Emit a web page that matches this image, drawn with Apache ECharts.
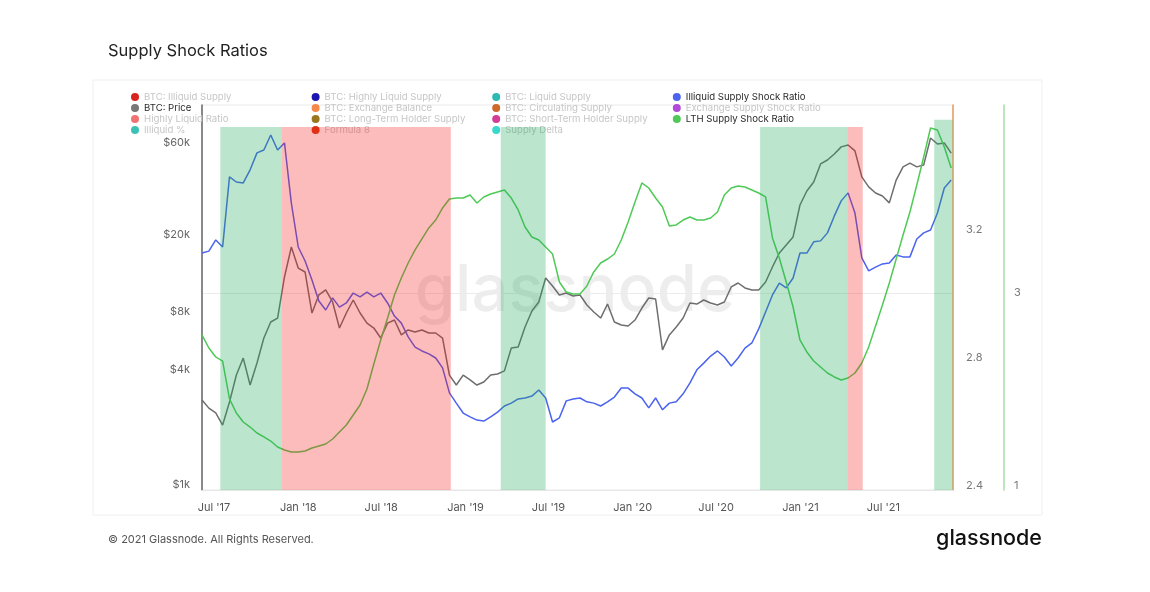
<!DOCTYPE html>
<html><head><meta charset="utf-8">
<script src="https://cdn.jsdelivr.net/npm/echarts@6/dist/echarts.min.js"></script>
<style>html,body{margin:0;padding:0;background:#fff}#c{width:1150px;height:592px}</style>
</head><body><div id="c"></div>
<script>
// ---- data (one point every 15 days from startDate) ----
const startDate = '2017-06-05';
const stepDays = 15;

const btcPrice = [
  2770, 2510, 2370, 2050, 2700, 3730, 4570, 3310, 4310, 5810,
  7040, 7380, 12070, 17280, 13430, 12810, 7840, 9730, 10330, 8950,
  6550, 7840, 9160, 7840, 6950, 6550, 5810, 6950, 7210, 6030,
  6400, 6250, 6400, 6170, 6170, 5810, 3730, 3310, 3730, 3520,
  3310, 3430, 3730, 3780, 3920, 5160, 5220, 6630, 8030, 8950,
  11920, 10830, 9730, 9960, 9610, 9730, 8630, 7940, 7380, 8730,
  7040, 6790, 6710, 7210, 8320, 9380, 9270, 5040, 6030, 6630,
  7380, 8840, 8730, 9160, 8840, 8630, 8950, 10710, 11230, 10580,
  10330, 10330, 11370, 13610, 16080, 17700, 19490, 28580, 33800, 37640,
  46700, 48980, 52600, 57300, 58600, 54600, 40000, 35500, 33000, 31800,
  29300, 38500, 45100, 47200, 45100, 46100, 63700, 59300, 60000, 53200
];
const illiquidSSR = [
  3.128, 3.134, 3.169, 3.147, 3.366, 3.350, 3.347, 3.388, 3.441, 3.450,
  3.497, 3.450, 3.472, 3.284, 3.147, 3.103, 3.044, 2.978, 2.950, 2.988,
  2.959, 2.972, 3.003, 2.991, 3.006, 2.991, 3.003, 2.972, 2.931, 2.909,
  2.866, 2.834, 2.822, 2.813, 2.800, 2.769, 2.691, 2.659, 2.628, 2.616,
  2.606, 2.603, 2.616, 2.631, 2.650, 2.659, 2.672, 2.675, 2.681, 2.700,
  2.675, 2.600, 2.613, 2.666, 2.672, 2.675, 2.663, 2.659, 2.650, 2.663,
  2.678, 2.706, 2.706, 2.688, 2.675, 2.644, 2.675, 2.638, 2.659, 2.663,
  2.688, 2.722, 2.763, 2.784, 2.806, 2.822, 2.803, 2.775, 2.800, 2.831,
  2.847, 2.891, 2.944, 2.997, 3.034, 3.019, 3.050, 3.128, 3.128, 3.163,
  3.166, 3.191, 3.244, 3.291, 3.316, 3.253, 3.113, 3.072, 3.084, 3.094,
  3.097, 3.122, 3.116, 3.116, 3.172, 3.191, 3.200, 3.253, 3.331, 3.356
];
const lthSSR = [
  2.565, 2.430, 2.337, 2.295, 1.902, 1.756, 1.663, 1.611, 1.549, 1.508,
  1.466, 1.404, 1.373, 1.352, 1.352, 1.363, 1.394, 1.415, 1.435, 1.487,
  1.560, 1.632, 1.736, 1.839, 2.005, 2.264, 2.513, 2.741, 2.979, 3.155,
  3.311, 3.446, 3.560, 3.674, 3.756, 3.881, 3.974, 3.984, 3.984, 4.016,
  3.933, 3.995, 4.026, 4.047, 4.067, 3.984, 3.860, 3.684, 3.580, 3.549,
  3.477, 3.404, 3.114, 3.010, 2.990, 2.990, 3.073, 3.218, 3.311, 3.352,
  3.404, 3.549, 3.736, 3.943, 4.140, 4.088, 3.984, 3.891, 3.694, 3.705,
  3.756, 3.788, 3.756, 3.756, 3.777, 3.839, 4.016, 4.088, 4.109, 4.098,
  4.067, 4.036, 3.995, 3.570, 3.363, 3.114, 2.855, 2.513, 2.389, 2.295,
  2.233, 2.171, 2.130, 2.098, 2.119, 2.171, 2.275, 2.440, 2.658, 2.876,
  3.104, 3.352, 3.601, 3.839, 4.119, 4.409, 4.710, 4.689, 4.513, 4.295
];

// shaded regimes: [start, end, kind, relative top]
const shadeRanges = [
  ['2017-07-15', '2017-11-26', 'green', 0.943],
  ['2017-11-26', '2018-11-30', 'red',   0.943],
  ['2019-03-19', '2019-06-25', 'green', 0.943],
  ['2020-10-05', '2021-04-14', 'green', 0.943],
  ['2021-04-14', '2021-05-17', 'red',   0.943],
  ['2021-10-20', '2021-11-29', 'green', 0.962]
];

const xTicks = ['2017-07-01','2018-01-01','2018-07-01','2019-01-01','2019-07-01','2020-01-01','2020-07-01','2021-01-01','2021-07-01'];
const priceTicks = [1000, 4000, 8000, 20000, 60000];
const ratioTicks = [2.4, 2.8, 3.2];
const lthTicks = [1, 3];
const lthGridValues = [3];

const legendCols = [
  ['BTC: Illiquid Supply', 'BTC: Price', 'Highly Liquid Ratio', 'Illiquid %'],
  ['BTC: Highly Liquid Supply', 'BTC: Exchange Balance', 'BTC: Long-Term Holder Supply', 'Formula 8'],
  ['BTC: Liquid Supply', 'BTC: Circulating Supply', 'BTC: Short-Term Holder Supply', 'Supply Delta'],
  ['Illiquid Supply Shock Ratio', 'Exchange Supply Shock Ratio', 'LTH Supply Shock Ratio']
];
const legendColors = {
  'BTC: Illiquid Supply': '#d8241c', 'BTC: Price': '#777777', 'Highly Liquid Ratio': '#f07272', 'Illiquid %': '#3cc2b4',
  'BTC: Highly Liquid Supply': '#1c16b0', 'BTC: Exchange Balance': '#f5894a', 'BTC: Long-Term Holder Supply': '#9a761e', 'Formula 8': '#d63a12',
  'BTC: Liquid Supply': '#2cbab2', 'BTC: Circulating Supply': '#d0682c', 'BTC: Short-Term Holder Supply': '#d23e96', 'Supply Delta': '#3ad8ca',
  'Illiquid Supply Shock Ratio': '#4b63ee', 'Exchange Supply Shock Ratio': '#b14ad9', 'LTH Supply Shock Ratio': '#4fca57'
};
const activeNames = ['BTC: Price', 'Illiquid Supply Shock Ratio', 'LTH Supply Shock Ratio'];

// ---- build ----
const FONT = 'Inter, "Noto Sans", sans-serif';
const ts = s => Date.parse(s + 'T00:00:00Z');
const DAY = 86400000;
const t0 = ts(startDate);
const dates = btcPrice.map((_, i) => t0 + i * stepDays * DAY);
const pair = arr => arr.map((v, i) => [dates[i], v]);
const MONTHS = ['Jan','Feb','Mar','Apr','May','Jun','Jul','Aug','Sep','Oct','Nov','Dec'];

const shadeColor = { green: 'rgba(30,170,90,0.30)', red: 'rgba(245,25,25,0.29)' };

const legends = legendCols.map((col, k) => ({
  orient: 'vertical',
  left: 131 + k * 180.6,
  top: 91.5,
  padding: 0,
  itemWidth: 8, itemHeight: 8, itemGap: 0, itemTextGap: 3,
  icon: 'circle',
  selectedMode: false,
  textStyle: { fontFamily: FONT, fontSize: 9.6, lineHeight: 11, color: '#c6c6c6' },
  data: col.map(n => activeNames.includes(n) ? { name: n, textStyle: { color: '#2b2b2b' } } : { name: n })
}));

const dummySeries = Object.keys(legendColors)
  .filter(n => !activeNames.includes(n))
  .map(n => ({ name: n, type: 'line', data: [], color: legendColors[n], yAxisIndex: 1 }));

const option = {
  animation: false,
  backgroundColor: '#fff',
  title: {
    text: 'Supply Shock Ratios', left: 108, top: 43, padding: 0,
    textStyle: { fontFamily: FONT, fontSize: 16.5, fontWeight: 'normal', color: '#222' }
  },
  legend: legends,
  grid: { left: 202, right: 197, top: 105, bottom: 102, show: true, borderColor: '#e9e9e9', borderWidth: 1 },
  xAxis: {
    type: 'value',
    min: ts('2017-06-05'), max: ts('2021-11-30'),
    axisLine: { show: true, lineStyle: { color: '#e6e6e6' } },
    axisTick: { show: false },
    splitLine: { show: false },
    axisLabel: {
      customValues: xTicks.map(ts),
      formatter: v => { const d = new Date(v); return MONTHS[d.getUTCMonth()] + " '" + String(d.getUTCFullYear()).slice(2); },
      color: '#555', fontFamily: FONT, fontSize: 11, margin: 12
    }
  },
  yAxis: [
    {
      type: 'log', min: 942, max: 94600, position: 'left',
      axisLine: { show: true, lineStyle: { color: '#666', width: 1.5 } },
      axisTick: { show: false }, splitLine: { show: false },
      axisLabel: {
        customValues: priceTicks,
        formatter: v => '$' + Math.round(v / 1000) + 'k',
        color: '#666', fontFamily: FONT, fontSize: 11, margin: 12
      }
    },
    {
      type: 'value', min: 2.3875, max: 3.5906, position: 'right', offset: 0,
      axisLine: { show: true, lineStyle: { color: '#e79d5e', width: 1.5 } },
      axisTick: { show: false }, splitLine: { show: false },
      axisLabel: { customValues: ratioTicks, formatter: v => v.toFixed(1), color: '#777', fontFamily: FONT, fontSize: 11, margin: 13 }
    },
    {
      type: 'value', min: 0.9585, max: 4.948, position: 'right', offset: 51,
      axisLine: { show: true, lineStyle: { color: '#a3dea6', width: 1.5 } },
      axisTick: { show: false, customValues: lthGridValues },
      splitLine: { show: true, lineStyle: { color: '#ececec', width: 1 } },
      axisLabel: { customValues: lthTicks, formatter: v => String(v), color: '#777', fontFamily: FONT, fontSize: 11, margin: 10 }
    },
    { type: 'value', min: 0, max: 1, show: false }
  ],
  graphic: [
    { type: 'rect', shape: { x: 93, y: 80, width: 949, height: 435 }, style: { fill: 'none', stroke: '#efefef', lineWidth: 1 }, z: -10, silent: true },
    { type: 'text', x: 575, y: 291, z: -5, silent: true,
      style: { text: 'glassnode', font: '500 65px ' + FONT, fill: 'rgba(0,0,0,0.07)', align: 'center', verticalAlign: 'middle' } },
    { type: 'text', x: 108, y: 540, silent: true,
      style: { text: '© 2021 Glassnode. All Rights Reserved.', font: '11px ' + FONT, fill: '#555', verticalAlign: 'middle' } },
    { type: 'text', x: 1042, y: 539, silent: true,
      style: { text: 'glassnode', font: '500 21.5px ' + FONT, fill: '#111', align: 'right', verticalAlign: 'middle' } }
  ],
  series: [
    {
      name: 'BTC: Price', type: 'line', yAxisIndex: 0, data: pair(btcPrice), showSymbol: false,
      color: legendColors['BTC: Price'], lineStyle: { width: 1.5, color: '#6e6e6e' }, z: 3
    },
    {
      name: 'Illiquid Supply Shock Ratio', type: 'line', yAxisIndex: 1, data: pair(illiquidSSR), showSymbol: false,
      color: legendColors['Illiquid Supply Shock Ratio'], lineStyle: { width: 1.5 }, z: 3
    },
    {
      name: 'LTH Supply Shock Ratio', type: 'line', yAxisIndex: 2, data: pair(lthSSR), showSymbol: false,
      color: legendColors['LTH Supply Shock Ratio'], lineStyle: { width: 1.5 }, z: 3
    },
    {
      name: '_regimes', type: 'line', yAxisIndex: 3, data: [], z: 10,
      markArea: {
        silent: true, z: 10,
        data: shadeRanges.map(r => [
          { xAxis: ts(r[0]), yAxis: 0, itemStyle: { color: shadeColor[r[2]] } },
          { xAxis: ts(r[1]), yAxis: r[3] }
        ])
      }
    },
    ...dummySeries
  ]
};

echarts.init(document.getElementById('c'), null, { renderer: 'canvas' }).setOption(option);
</script>
</body></html>
